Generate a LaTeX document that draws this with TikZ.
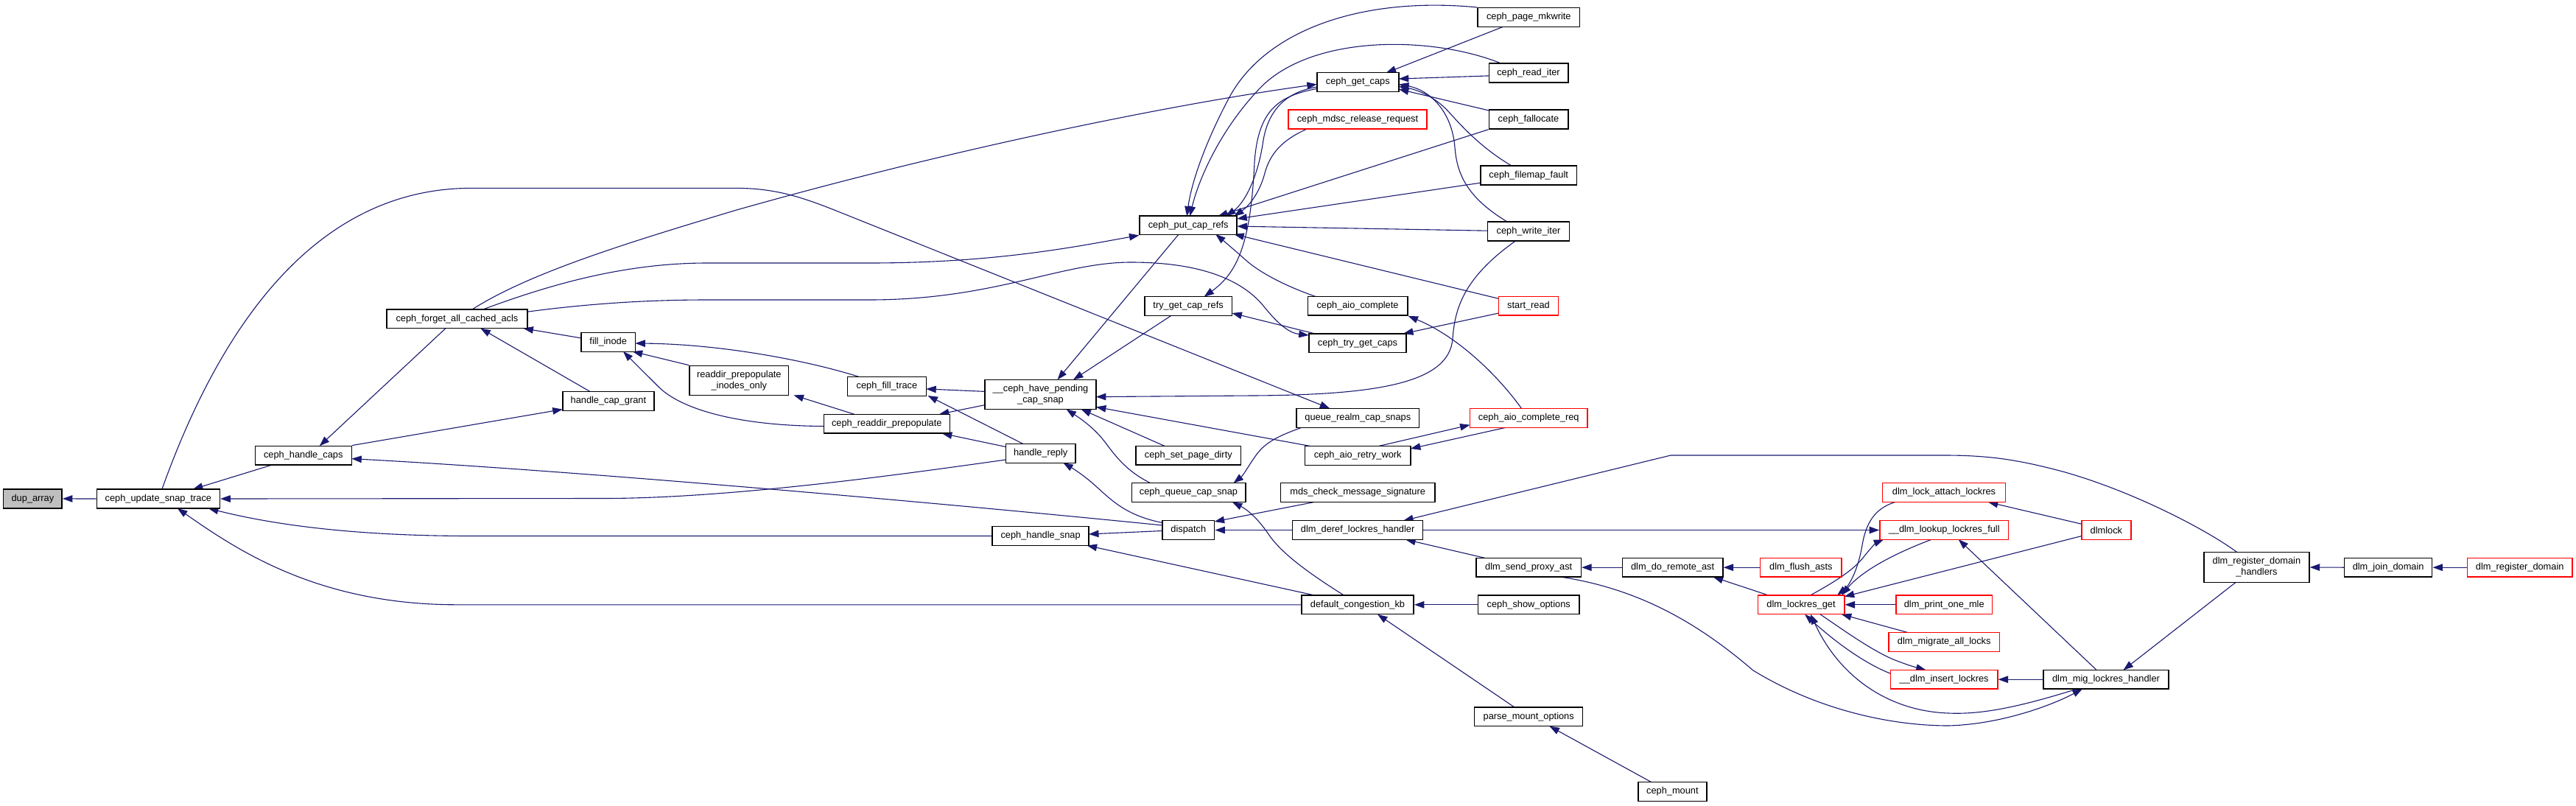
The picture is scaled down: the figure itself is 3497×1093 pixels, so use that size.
\documentclass[tikz,border=0pt]{standalone}
\usepackage{fontspec}
\setmainfont{Liberation Sans}
\usetikzlibrary{arrows.meta,calc,backgrounds}
\definecolor{edgeblue}{HTML}{191970}
\definecolor{graynode}{HTML}{BFBFBF}
\newcommand\gfont{\fontsize{12.8pt}{15pt}\selectfont}
\begin{document}
\begin{tikzpicture}[x=1pt,y=-1pt,
  nb/.style={draw=black, line width=1.5pt, fill=white, inner sep=0pt, minimum height=25.8pt, font=\gfont, align=center},
  nr/.style={nb, draw=red},
  eg/.style={draw=edgeblue, line width=1.1pt, -{Triangle[length=13.5pt,width=9.5pt]}}]
\useasboundingbox (0,0) rectangle (3497,1093);
% nodes
\node[nb, fill=graynode, minimum width=79.6pt] (dup) at (44.4,676.9) {dup\_array};
\node[nb, minimum width=167.2pt] (ust) at (214.9,677) {ceph\_update\_snap\_trace};
\node[nb, minimum width=131pt] (hcaps) at (411.8,618.2) {ceph\_handle\_caps};
\node[nb, minimum width=191pt] (forget) at (620.4,432.7) {ceph\_forget\_all\_cached\_acls};
\node[nb, minimum width=73.4pt] (fill) at (825.7,464.5) {fill\_inode};
\node[nb, minimum width=134.7pt, minimum height=40pt] (rpio) at (1003.3,516.4) {readdir\_prepopulate\\\_inodes\_only};
\node[nb, minimum width=124.3pt] (hcg) at (825.9,544.6) {handle\_cap\_grant};
\node[nb, minimum width=171pt] (crp) at (1203.8,575.3) {ceph\_readdir\_prepopulate};
\node[nb, minimum width=106.7pt] (cft) at (1203.9,524.6) {ceph\_fill\_trace};
\node[nb, minimum width=150.7pt, minimum height=40pt] (chpcs) at (1412.5,535.4) {\_\_ceph\_have\_pending\\\_cap\_snap};
\node[nb, minimum width=94.5pt] (hrep) at (1412.7,615.5) {handle\_reply};
\node[nb, minimum width=131pt] (chs) at (1412.6,727.5) {ceph\_handle\_snap};
\node[nb, minimum width=132pt] (pcr) at (1613.2,305.7) {ceph\_put\_cap\_refs};
\node[nb, minimum width=118.6pt] (tgcr) at (1613.1,415.4) {try\_get\_cap\_refs};
\node[nb, minimum width=142.7pt] (cspd) at (1613.3,618.2) {ceph\_set\_page\_dirty};
\node[nb, minimum width=154.5pt] (cqcs) at (1613.5,668.6) {ceph\_queue\_cap\_snap};
\node[nb, minimum width=70.7pt] (disp) at (1613.3,719.5) {dispatch};
\node[nb, minimum width=111pt] (gcaps) at (1843.3,111.4) {ceph\_get\_caps};
\node[nr, minimum width=188.3pt] (mdsc) at (1843,162.1) {ceph\_mdsc\_release\_request};
\node[nb, minimum width=135.5pt] (aioc) at (1843,415.2) {ceph\_aio\_complete};
\node[nb, minimum width=132.4pt] (tgc) at (1843,465.7) {ceph\_try\_get\_caps};
\node[nb, minimum width=166.8pt] (qrcs) at (1843.3,567.4) {queue\_realm\_cap\_snaps};
\node[nb, minimum width=143.5pt] (arw) at (1843.2,618.4) {ceph\_aio\_retry\_work};
\node[nb, minimum width=209.2pt] (mcms) at (1843.2,668.6) {mds\_check\_message\_signature};
\node[nb, minimum width=177.2pt] (dlrh) at (1843.1,719.5) {dlm\_deref\_lockres\_handler};
\node[nb, minimum width=152.3pt] (dck) at (1843,820.8) {default\_congestion\_kb};
\node[nb, minimum width=138.5pt] (cpm) at (2075.3,23.6) {ceph\_page\_mkwrite};
\node[nb, minimum width=107.5pt] (cri) at (2075,99.1) {ceph\_read\_iter};
\node[nb, minimum width=107.5pt] (cfa) at (2075,162.1) {ceph\_fallocate};
\node[nb, minimum width=130.8pt] (cff) at (2075.2,238) {ceph\_filemap\_fault};
\node[nb, minimum width=111.4pt] (cwi) at (2075,313.9) {ceph\_write\_iter};
\node[nr, minimum width=80.8pt] (sr) at (2075,415.2) {start\_read};
\node[nr, minimum width=159.2pt] (acr) at (2075.2,567.4) {ceph\_aio\_complete\_req};
\node[nb, minimum width=142.4pt] (spa) at (2075.2,770.2) {dlm\_send\_proxy\_ast};
\node[nb, minimum width=137.8pt] (cso) at (2075.2,820.8) {ceph\_show\_options};
\node[nb, minimum width=147pt] (pmo) at (2075.2,972.7) {parse\_mount\_options};
\node[nb, minimum width=136.6pt] (dra) at (2270.6,770.2) {dlm\_do\_remote\_ast};
\node[nb, minimum width=93.3pt] (cm) at (2270.4,1074.4) {ceph\_mount};
\node[nr, minimum width=110.6pt] (dfa) at (2444.9,770.2) {dlm\_flush\_asts};
\node[nr, minimum width=117.5pt] (dlg) at (2445,820.8) {dlm\_lockres\_get};
\node[nr, minimum width=167.3pt] (dlal) at (2639,668.6) {dlm\_lock\_attach\_lockres};
\node[nr, minimum width=174.5pt] (dllf) at (2639.2,719.5) {\_\_dlm\_lookup\_lockres\_full};
\node[nr, minimum width=130.9pt] (dpom) at (2639.2,820.8) {dlm\_print\_one\_mle};
\node[nr, minimum width=150.7pt] (dmal) at (2639.2,871.5) {dlm\_migrate\_all\_locks};
\node[nr, minimum width=145.4pt] (dil) at (2639.1,922.2) {\_\_dlm\_insert\_lockres};
\node[nr, minimum width=66.9pt] (dlmlock) at (2859.4,719.5) {dlmlock};
\node[nb, minimum width=169.6pt] (dmlh) at (2859,922.2) {dlm\_mig\_lockres\_handler};
\node[nb, minimum width=143.1pt, minimum height=40.6pt] (drdh) at (3063.4,770) {dlm\_register\_domain\\\_handlers};
\node[nb, minimum width=119.2pt] (djd) at (3242.1,770.2) {dlm\_join\_domain};
\node[nr, minimum width=142.7pt] (drd) at (3420.7,770.2) {dlm\_register\_domain};
% edges
\begin{pgfonlayer}{background}
\draw[eg] (ust.west) -- (dup.east);
\draw[eg] ($(hcaps)+(-43,13)$) -- ($(ust)+(47,-13)$);
\draw[eg] ($(forget)+(-15.5,13)$) -- ($(hcaps)+(22,-12.9)$);
\draw[eg] (hcaps.north east) -- ($(hcg)+(-62.2,11)$);
\draw[eg] ($(hcg)+(-24,-12.6)$) -- ($(forget)+(32,13)$);
\draw[eg] ($(fill)+(-36.7,-5.6)$) -- ($(forget)+(90,13)$);
\draw[eg] ($(disp)+(-35.4,-6.5)$) .. controls (1300,685) and (800,640) .. ($(hcaps)+(65.5,4.4)$);
\draw[eg] ($(hrep)+(-47.2,8.5)$) .. controls (1250,640) and (1000,676.5) .. (820,676.5) -- (ust.east);
\draw[eg] (chs.west) -- (640,727.5) .. controls (480,727.5) and (370,712) .. ($(ust)+(68,13)$);
\draw[eg] (dck.west) -- (620,820.8) .. controls (430,820.8) and (320,745) .. ($(ust)+(26,13)$);
\draw[eg] ($(ust)+(5,-13)$) .. controls (300,440) and (430,255.4) .. (640,255.4) -- (1000,255.4) .. controls (1060,255.4) and (1100,272) .. (1150,292) -- ($(qrcs)+(-38,-13)$);
\draw[eg] ($(forget)+(21,-13)$) .. controls (720,370) and (850,330) .. (1000,285) .. controls (1300,200) and (1600,140) .. ($(gcaps)+(-55.5,3)$);
\draw[eg] ($(forget)+(36,-13)$) .. controls (750,385) and (850,357) .. (960,357) -- (1180,357) .. controls (1350,357) and (1460,335) .. (pcr.south west);
\draw[eg] ($(forget)+(95.4,-9.5)$) .. controls (800,412) and (880,407) .. (960,407) -- (1180,407) .. controls (1350,407) and (1440,356) .. (1535,356) .. controls (1640,356) and (1690,385) .. (1715,415) .. controls (1735,440) and (1750,452) .. ($(tgc)+(-66.3,-10.7)$);
\draw[eg] ($(hrep)+(-23,-12.6)$) -- ($(cft)+(55.6,12.4)$);
\draw[eg] ($(chpcs)+(-75.3,-4)$) -- ($(cft)+(53.3,3.3)$);
\draw[eg] ($(chpcs)+(-75.3,14.2)$) -- ($(crp)+(71,-13)$);
\draw[eg] ($(hrep)+(-47.2,-9)$) -- ($(crp)+(75,13)$);
\draw[eg] ($(crp)+(-85.4,3.2)$) .. controls (1000,578) and (925,555) .. (895,526) -- ($(fill)+(20.3,12.6)$);
\draw[eg] ($(crp)+(-44,-13)$) -- ($(rpio)+(74.2,20)$);
\draw[eg] (rpio.north west) -- ($(fill)+(33,12.6)$);
\draw[eg] ($(cft)+(-34.6,-12.1)$) .. controls (1100,490) and (980,467) .. ($(fill)+(36.7,1.5)$);
\draw[eg] ($(pcr)+(-13,12.2)$) -- ($(chpcs)+(23,-20)$);
\draw[eg] ($(tgcr)+(-22.6,12.6)$) -- ($(chpcs)+(44.5,-20)$);
\draw[eg] ($(cwi)+(-17.4,12.9)$) .. controls (1990,375) and (1975,415) .. (1972,460) .. controls (1967,520) and (1870,536) .. (1700,537) -- ($(chpcs)+(75.4,3.2)$);
\draw[eg] ($(arw)+(-65,-13)$) -- ($(chpcs)+(75.4,17)$);
\draw[eg] ($(cqcs)+(-51.7,-12.9)$) .. controls (1530,640) and (1515,620) .. (1500,600) .. controls (1485,580) and (1465,567) .. ($(chpcs)+(35,20)$);
\draw[eg] ($(cspd)+(-32.3,-12.8)$) -- ($(chpcs)+(55,20)$);
\draw[eg] (cpm.north west) .. controls (1850,-5) and (1720,40) .. (1670,130) .. controls (1635,195) and (1617,250) .. ($(pcr)+(-2,-12.2)$);
\draw[eg] ($(cri)+(-36.5,-12.7)$) .. controls (1950,50) and (1790,45) .. (1715,115) .. controls (1660,170) and (1628,240) .. ($(pcr)+(2,-12.2)$);
\draw[eg] (cfa.south west) -- ($(pcr)+(40,-12.1)$);
\draw[eg] ($(cff)+(-65.4,10.2)$) -- ($(pcr)+(66.1,-8.7)$);
\draw[eg] ($(cwi)+(-55.7,-0.7)$) -- ($(pcr)+(66.1,1.4)$);
\draw[eg] ($(sr)+(-40.4,-9.8)$) -- ($(pcr)+(62,12.2)$);
\draw[eg] ($(aioc)+(-57,-12.7)$) .. controls (1750,390) and (1712,372) .. (1690,352) .. controls (1672,336) and (1660,326) .. ($(pcr)+(37,12.2)$);
\draw[eg] ($(mdsc)+(-68.6,12.9)$) .. controls (1745,188) and (1725,205) .. (1717,235) .. controls (1710,262) and (1695,280) .. ($(pcr)+(62,-12.1)$);
\draw[eg] ($(gcaps)+(-55.5,6.6)$) .. controls (1745,125) and (1722,150) .. (1715,190) .. controls (1708,240) and (1690,275) .. ($(pcr)+(51,-12.1)$);
\draw[eg] ($(gcaps)+(-55.5,9)$) .. controls (1735,130) and (1708,150) .. (1703,220) .. controls (1698,330) and (1680,370) .. ($(tgcr)+(21.4,-12.6)$);
\draw[eg] ($(cpm)+(-35,12.8)$) -- ($(gcaps)+(38.3,-12.5)$);
\draw[eg] ($(cri)+(-53.7,3.8)$) -- ($(gcaps)+(55.5,-4.4)$);
\draw[eg] ($(cfa)+(-53.7,-12.1)$) -- ($(gcaps)+(55.5,9.6)$);
\draw[eg] ($(cff)+(-23.3,-13)$) .. controls (2010,200) and (1985,172) .. (1965,150) .. controls (1948,132) and (1925,122) .. ($(gcaps)+(55.5,6)$);
\draw[eg] ($(cwi)+(-29,-12.9)$) .. controls (1995,270) and (1978,240) .. (1975,200) .. controls (1971,150) and (1940,122) .. ($(gcaps)+(55.5,3)$);
\draw[eg] ($(tgc)+(-58,-12.8)$) -- ($(tgcr)+(59.3,9.6)$);
\draw[eg] ($(sr)+(-40.4,9.8)$) -- ($(tgc)+(62,-12.8)$);
\draw[eg] ($(acr)+(-9.7,-13)$) .. controls (2030,505) and (1975,455) .. (aioc.south east);
\draw[eg] ($(acr)+(-31,12.9)$) -- ($(arw)+(71.7,-9.4)$);
\draw[eg] ($(arw)+(28.8,-13)$) -- ($(acr)+(-79.6,9.3)$);
\draw[eg] ($(qrcs)+(-76.5,12.9)$) .. controls (1735,592) and (1718,600) .. (1705,618) .. controls (1695,632) and (1688,645) .. ($(cqcs)+(61,-12.9)$);
\draw[eg] ($(dck)+(-18.8,-12.9)$) .. controls (1780,780) and (1740,752) .. (1722,725) .. controls (1705,700) and (1690,690) .. ($(cqcs)+(59.3,12.9)$);
\draw[eg] ($(mcms)+(-59.2,12.9)$) -- ($(disp)+(35.3,-11.5)$);
\draw[eg] (dlrh.west) -- (disp.east);
\draw[eg] ($(disp)+(-35.4,1)$) -- ($(chs)+(65.4,-2.5)$);
\draw[eg] ($(disp)+(-35.4,-10)$) .. controls (1530,700) and (1510,680) .. (1490,662) .. controls (1475,648) and (1460,638) .. ($(hrep)+(30.5,12.5)$);
\draw[eg] ($(dck)+(-59,-12.9)$) -- ($(chs)+(63,12.9)$);
\draw[eg] (cso.west) -- (dck.east);
\draw[eg] ($(pmo)+(-19.5,-12.9)$) -- ($(dck)+(27,13)$);
\draw[eg] ($(cm)+(-29,-13)$) -- ($(pmo)+(28.3,13)$);
\draw[eg] (dlrh.east) -- (dllf.west);
\draw[eg] ($(drdh)+(-26.4,-20.3)$) .. controls (3000,722) and (2900,668) .. (2800,640) .. controls (2740,624) and (2700,618) .. (2640,618) -- (2268,618) -- ($(dlrh)+(62,-12.8)$);
\draw[eg] ($(spa)+(-59.7,-12.9)$) -- ($(dlrh)+(65,12.8)$);
\draw[eg] (dra.west) -- (spa.east);
\draw[eg] ($(spa)+(43.6,12.9)$) .. controls (2230,800) and (2310,850) .. (2380,910) .. controls (2470,965) and (2570,985) .. (2645,985) .. controls (2720,983) and (2790,955) .. ($(dmlh)+(-32,12.8)$);
\draw[eg] ($(dlg)+(-44.6,-12.9)$) -- ($(dra)+(55,12.9)$);
\draw[eg] (dfa.west) -- (dra.east);
\draw[eg] ($(dlal)+(-66.4,12.9)$) .. controls (2545,690) and (2533,710) .. (2528,740) .. controls (2522,775) and (2510,795) .. ($(dlg)+(49,-12.9)$);
\draw[eg] ($(dllf)+(-16.9,12.7)$) .. controls (2580,748) and (2530,772) .. ($(dlg)+(55,-12.9)$);
\draw[eg] ($(dlmlock)+(-33.5,8)$) -- ($(dlg)+(58.7,-11)$);
\draw[eg] ($(dlg)+(12.8,-12.9)$) .. controls (2490,790) and (2515,775) .. (2530,756) .. controls (2540,743) and (2548,736) .. ($(dllf)+(-82,12.7)$);
\draw[eg] (dpom.west) -- (dlg.east);
\draw[eg] ($(dmal)+(-49.4,-13)$) -- ($(dlg)+(54.8,13)$);
\draw[eg] ($(dlg)+(26,13)$) .. controls (2505,857) and (2540,882) .. (2570,895) .. controls (2590,903) and (2605,907) .. ($(dil)+(-24.5,-12.7)$);
\draw[eg] ($(dil)+(-72.7,-8)$) .. controls (2530,900) and (2490,870) .. ($(dlg)+(5,13)$);
\draw[eg] ($(dmlh)+(-39,12.8)$) .. controls (2740,960) and (2690,970) .. (2645,968) .. controls (2560,965) and (2495,915) .. ($(dlg)+(13,13)$);
\draw[eg] ($(dmlh)+(-12.8,-12.7)$) -- ($(dllf)+(19.5,12.7)$);
\draw[eg] (dmlh.west) -- (dil.east);
\draw[eg] ($(dlmlock)+(-33.5,-8.2)$) -- ($(dlal)+(59.8,12.9)$);
\draw[eg] ($(drdh)+(-28.2,20.3)$) -- ($(dmlh)+(23.5,-12.7)$);
\draw[eg] (djd.west) -- (drdh.east);
\draw[eg] (drd.west) -- (djd.east);
\end{pgfonlayer}
\end{tikzpicture}
\end{document}
